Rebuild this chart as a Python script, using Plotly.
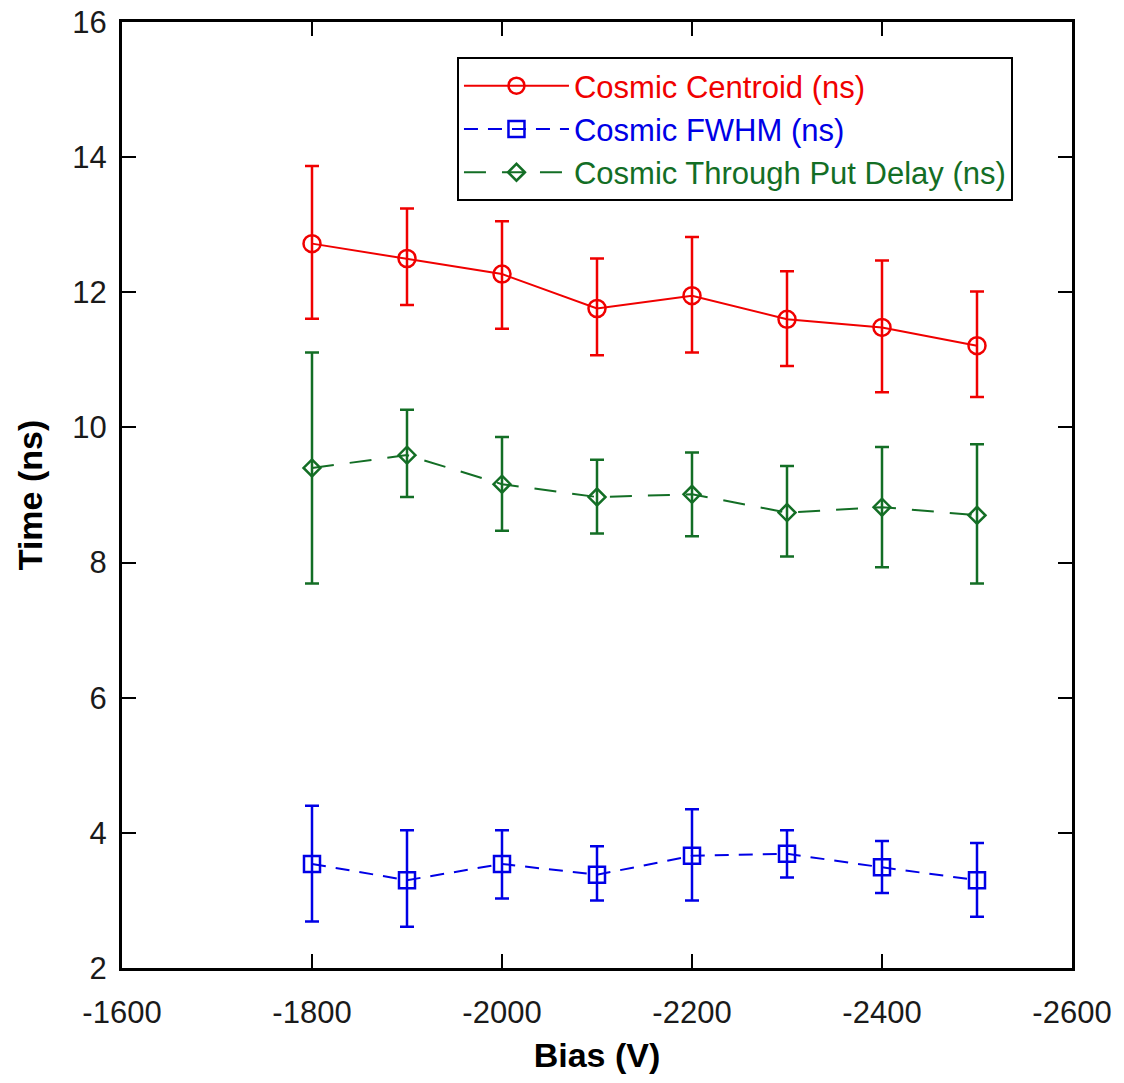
import plotly.graph_objects as go

bias = [-1800, -1900, -2000, -2100, -2200, -2300, -2400, -2500]

centroid = [12.72, 12.50, 12.27, 11.76, 11.95, 11.60, 11.48, 11.21]
centroid_up = [1.15, 0.74, 0.78, 0.74, 0.87, 0.71, 0.99, 0.80]
centroid_dn = [1.11, 0.69, 0.81, 0.69, 0.84, 0.69, 0.96, 0.76]

fwhm = [3.54, 3.30, 3.54, 3.38, 3.66, 3.69, 3.49, 3.30]
fwhm_up = [0.86, 0.74, 0.50, 0.42, 0.69, 0.35, 0.39, 0.55]
fwhm_dn = [0.85, 0.69, 0.51, 0.38, 0.66, 0.35, 0.38, 0.54]

delay = [9.40, 9.59, 9.16, 8.97, 9.01, 8.74, 8.82, 8.70]
delay_up = [1.71, 0.67, 0.70, 0.55, 0.62, 0.69, 0.89, 1.05]
delay_dn = [1.71, 0.62, 0.69, 0.54, 0.62, 0.65, 0.89, 1.01]

x_tickvals = [-1600, -1800, -2000, -2200, -2400, -2600]
x_ticktext = ["-1600", "-1800", "-2000", "-2200", "-2400", "-2600"]
y_tickvals = [2, 4, 6, 8, 10, 12, 14, 16]
y_ticktext = ["2", "4", "6", "8", "10", "12", "14", "16"]

names = ["Cosmic Centroid (ns)", "Cosmic FWHM (ns)", "Cosmic Through Put Delay (ns)"]
colors = ["#f00000", "#0000e6", "#136e25"]

FONT = "Liberation Sans, Arial, sans-serif"

fig = go.Figure()

def add(y, up, dn, name, color, symbol, size, dash):
    fig.add_trace(go.Scatter(
        x=bias, y=y, mode="lines+markers",
        name=f"<span style='color:{color}'>{name}</span>",
        line=dict(color=color, width=2, dash=dash),
        marker=dict(symbol=symbol, size=size, color=color,
                    line=dict(color=color, width=2.5)),
        error_y=dict(type="data", symmetric=False, array=up, arrayminus=dn,
                     color=color, thickness=2.5, width=7),
    ))

add(centroid, centroid_up, centroid_dn, names[0], colors[0], "circle-open", 17, "solid")
add(fwhm, fwhm_up, fwhm_dn, names[1], colors[1], "square-open", 16, "14px,10px")
add(delay, delay_up, delay_dn, names[2], colors[2], "diamond-open", 13, "22px,16px")

axis_common = dict(
    showline=True, linecolor="black", linewidth=3, mirror="ticks",
    ticks="inside", ticklen=14, tickwidth=2, tickcolor="black",
    showgrid=False, zeroline=False, automargin=False,
    ticklabeloverflow="allow",
    tickfont=dict(family=FONT, size=31, color="#1a1a1a"),
)

fig.update_xaxes(range=[-1600, -2600], tickmode="array",
                 tickvals=x_tickvals, ticktext=x_ticktext, ticklabelstandoff=15,
                 title=dict(text="<b>Bias (V)</b>", font=dict(family=FONT, size=34, color="black"), standoff=14),
                 **axis_common)
fig.update_yaxes(range=[2, 16], tickmode="array",
                 tickvals=y_tickvals, ticktext=y_ticktext, ticklabelstandoff=6,
                 title=dict(text="<b>Time (ns)</b>", font=dict(family=FONT, size=34, color="black"), standoff=20),
                 **axis_common)

fig.update_layout(
    width=1124, height=1080,
    margin=dict(l=122, r=52, t=22, b=112),
    plot_bgcolor="white", paper_bgcolor="white",
    legend=dict(x=0.3526, y=0.963, xanchor="left", yanchor="top",
                bordercolor="black", borderwidth=2, bgcolor="white",
                font=dict(family=FONT, size=31),
                itemwidth=105, tracegroupgap=0),
)

fig.write_html("out.html", config={"displayModeBar": False},
               post_script="document.body.style.margin='0';")
